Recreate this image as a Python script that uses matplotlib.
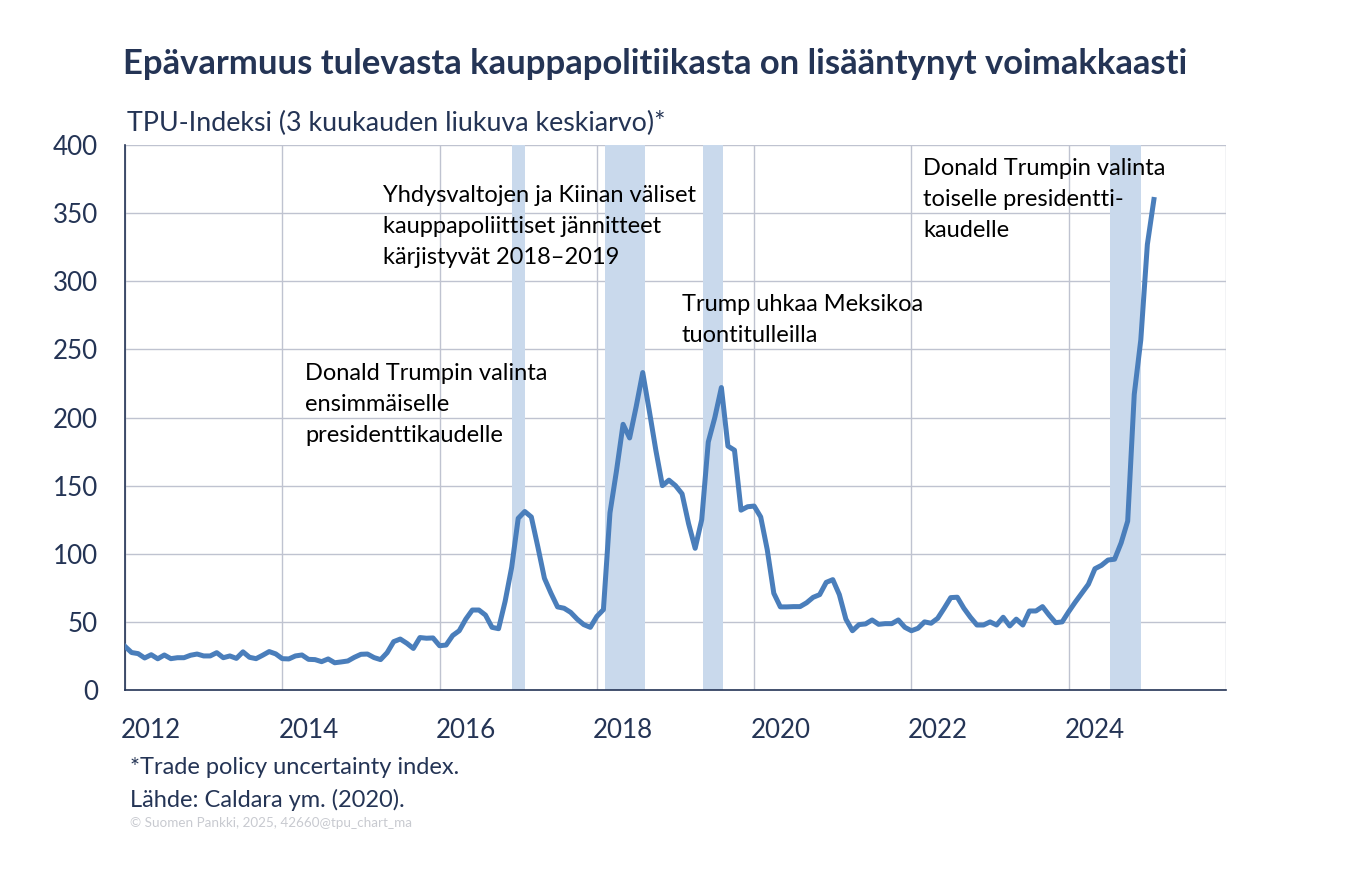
import matplotlib
matplotlib.use("Agg")
import matplotlib.pyplot as plt
import numpy as np

# ---- data (monthly TPU index, 3-month moving average, from Sep 2011) ----
tpu = [32, 27.5, 26.7, 23.5, 25.9, 22.9, 25.7, 23, 23.7, 23.7,
       25.5, 26.4, 25, 25, 27.4, 23.7, 25, 23.2, 28, 24,
       23, 25.5, 28.2, 26.5, 23, 22.8, 25, 25.7, 22.5, 22.3,
       20.8, 22.8, 20, 20.6, 21.3, 24, 26.2, 26.4, 23.8, 22.3,
       27.4, 35.5, 37.4, 34.3, 30.5, 38.5, 38, 38.2, 32.5, 33,
       40, 43.5, 52, 58.7, 58.7, 55, 46, 45, 65, 90,
       126, 131, 127, 105, 82, 71, 61, 60, 57, 52,
       48, 46, 54, 59, 130, 161, 195, 185, 208, 233,
       205, 176, 150, 154, 150, 144, 122, 104, 125, 182,
       200, 222, 179, 176, 132, 134.5, 135, 127, 103, 71,
       61, 61, 61.2, 61.2, 64, 68, 70, 79, 81, 70,
       52, 43.5, 48, 48.5, 51.4, 48.2, 48.7, 48.7, 51.4, 46,
       43.5, 45.3, 50, 49, 52.6, 60, 67.8, 68.1, 60, 53.4,
       47.7, 47.7, 50, 47.7, 53.4, 47, 52, 47.7, 58, 58,
       61.2, 55, 49.4, 50, 57.5, 64.5, 71, 77.6, 89, 91.5,
       95.4, 96, 108, 124, 217, 257, 327, 360]

# event bands (month index ranges from Sep 2011)
bands = [(59.0, 61.1), (73.3, 79.3), (88.2, 91.3), (150.3, 155.0)]

year_labels = ["2012", "2014", "2016", "2018", "2020", "2022", "2024"]
year_label_pos = [4, 28, 52, 76, 100, 124, 148]  # January of each year
grid_pos = [0, 24, 48, 72, 96, 120, 144, 168]
y_ticks = [0, 50, 100, 150, 200, 250, 300, 350, 400]

title = "Epävarmuus tulevasta kauppapolitiikasta on lisääntynyt voimakkaasti"
subtitle = "TPU-Indeksi (3 kuukauden liukuva keskiarvo)*"
note1 = "*Trade policy uncertainty index."
note2 = "Lähde: Caldara ym. (2020)."
copyright_txt = "© Suomen Pankki, 2025, 42660@tpu_chart_ma"

ann_china = "Yhdysvaltojen ja Kiinan väliset\nkauppapoliittiset jännitteet\nkärjistyvät 2018–2019"
ann_mexico = "Trump uhkaa Meksikoa\ntuontitulleilla"
ann_first = "Donald Trumpin valinta\nensimmäiselle\npresidenttikaudelle"
ann_second = "Donald Trumpin valinta\ntoiselle presidentti-\nkaudelle"

# ---- style ----
plt.rcParams['font.family'] = ['Lato', 'DejaVu Sans']
navy = "#243455"
line_col = "#4A7EBB"
band_col = "#C9D9EC"
grid_col = "#BFC3D0"

W, H = 1347, 880
fig = plt.figure(figsize=(W / 100, H / 100), dpi=100)
ax = fig.add_axes([125 / W, 1 - 690 / H, (1226 - 125) / W, (690 - 145) / H])

x = np.arange(len(tpu))
for a, b in bands:
    ax.axvspan(a, b, color=band_col, lw=0, zorder=1)

for g in grid_pos:
    ax.axvline(g, color=grid_col, lw=1, zorder=0.5)
for yv in y_ticks[1:]:
    ax.axhline(yv, color=grid_col, lw=1, zorder=0.5)

ax.plot(x, tpu, color=line_col, lw=3.6, zorder=3, solid_joinstyle='round')

ax.set_xlim(0, 168)
ax.set_ylim(0, 400)
ax.set_yticks(y_ticks)
ax.set_yticklabels([str(v) for v in y_ticks])
ax.set_xticks(year_label_pos)
ax.set_xticklabels(year_labels)
ax.tick_params(axis='both', length=0, colors=navy, labelsize=18.7)
ax.tick_params(axis='y', pad=19.5)
ax.tick_params(axis='x', pad=20)
for s in ['top', 'right']:
    ax.spines[s].set_visible(False)
ax.spines['left'].set_color(navy)
ax.spines['bottom'].set_color(navy)
ax.spines['left'].set_linewidth(1.2)
ax.spines['bottom'].set_linewidth(1.2)

# ---- texts ----
def fx(px):
    return px / W

def fy(py):
    return 1 - py / H

fig.text(fx(123), fy(64), title, fontsize=24.9, fontweight='bold', color=navy, va='center', ha='left')
fig.text(fx(127), fy(123), subtitle, fontsize=19.3, color=navy, va='center', ha='left')
fig.text(fx(130), fy(768), note1, fontsize=17, color=navy, va='center', ha='left')
fig.text(fx(130), fy(800), note2, fontsize=17, color=navy, va='center', ha='left')
fig.text(fx(130), fy(823), copyright_txt, fontsize=9.7, color="#C8CAD0", va='center', ha='left')

ann_kw = dict(fontsize=17, color='black', va='top', ha='left', linespacing=1.6)
fig.text(fx(383), fy(185), ann_china, **ann_kw)
fig.text(fx(682), fy(294), ann_mexico, **ann_kw)
fig.text(fx(305), fy(363), ann_first, **ann_kw)
fig.text(fx(923), fy(158), ann_second, **ann_kw)

fig.savefig("out.png", dpi=100)
